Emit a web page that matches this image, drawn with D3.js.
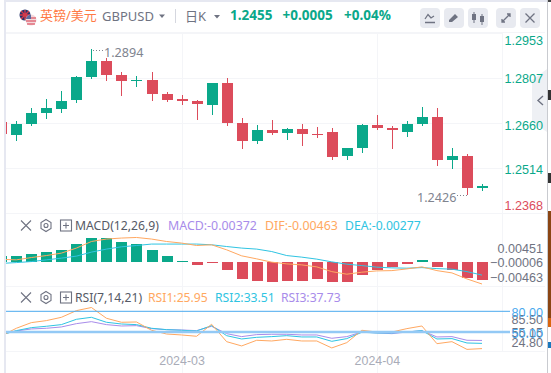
<!DOCTYPE html>
<html>
<head>
<meta charset="utf-8">
<style>
    body { margin: 0; background: #fff; overflow: hidden; }
    svg { display: block; font-family: "Noto Sans", "Noto Sans CJK SC", sans-serif; }
</style>
</head>
<body>
<svg id="container" width="551" height="373"></svg>

<script src="https://d3js.org/d3.v7.min.js"></script>
<script>

// candles, oldest first
let opens  = [1.2664,1.2622,1.2657,1.2693,1.2706,1.2735,1.2810,1.2862,1.2817,1.2798,1.2800,1.2755,1.2738,1.2732,1.2719,1.2791,1.2660,1.2602,1.2638,1.2628,1.2641,1.2625,1.2631,1.2553,1.2579,1.2654,1.2644,1.2631,1.2657,1.2680,1.2540,1.2553,1.2449]
let closes = [1.2625,1.2657,1.2693,1.2709,1.2732,1.2810,1.2862,1.2817,1.2797,1.2800,1.2755,1.2735,1.2732,1.2722,1.2791,1.2660,1.2602,1.2638,1.2628,1.2641,1.2625,1.2622,1.2550,1.2579,1.2654,1.2644,1.2638,1.2657,1.2680,1.2540,1.2553,1.2449,1.2455]
let highs  = [1.2664,1.2667,1.2709,1.2738,1.2764,1.2813,1.2900,1.2872,1.2826,1.2813,1.2826,1.2761,1.2751,1.2735,1.2791,1.2807,1.2677,1.2654,1.2670,1.2644,1.2657,1.2648,1.2644,1.2579,1.2657,1.2686,1.2651,1.2667,1.2712,1.2709,1.2579,1.2560,1.2462]
let lows   = [1.2625,1.2602,1.2652,1.2673,1.2693,1.2726,1.2803,1.2797,1.2748,1.2777,1.2732,1.2729,1.2719,1.2670,1.2686,1.2651,1.2576,1.2592,1.2622,1.2605,1.2586,1.2612,1.2540,1.2540,1.2563,1.2638,1.2576,1.2615,1.2651,1.2521,1.2511,1.2426,1.2440]

let macdBars = [0.00126,0.00126,0.00168,0.0021,0.00252,0.00378,0.00504,0.00504,0.0042,0.00378,0.00252,0.00126,0.00014,-0.00063,-0.00014,-0.00168,-0.00357,-0.00399,-0.0042,-0.00399,-0.00399,-0.00357,-0.0042,-0.0042,-0.00273,-0.00168,-0.00105,-0.00042,0.00042,-0.00105,-0.00168,-0.00336,-0.00372]
let difLine  = [0.00053,0.00042,0.0009,0.00132,0.00183,0.00288,0.00426,0.00477,0.00498,0.0051,0.00477,0.00426,0.00393,0.00342,0.00357,0.00252,0.00126,0.00063,-0.00006,-0.00042,-0.00063,-0.00105,-0.00204,-0.00258,-0.00216,-0.00189,-0.00183,-0.00147,-0.00105,-0.00183,-0.00231,-0.00357,-0.00463]
let deaLine  = [-0.00032,-0.00015,0.00006,0.00042,0.00078,0.0012,0.00204,0.00267,0.00315,0.00342,0.00372,0.00372,0.00372,0.00372,0.00357,0.00321,0.00288,0.00267,0.00216,0.00132,0.00099,0.00057,0,-0.00048,-0.00078,-0.00111,-0.00126,-0.00132,-0.0012,-0.00141,-0.00153,-0.00204,-0.00277]

let rsi1 = [44.3,55.4,63.6,66.5,71.3,81,85.5,69.9,64.1,64.5,52.5,47.1,45.7,43.8,61.2,36,29.8,38,37,39.4,37,37,26.9,34.6,52.5,50,50,54.9,58.7,33.1,36,24.8,25.95]
let rsi2 = [45.7,52,56.3,58.3,60.7,68.4,71.3,64.1,61.6,60.7,55.4,53.4,52.5,51.5,59.2,44.7,39.9,42.3,43.3,44.7,42.8,42.8,36.5,40.4,49.6,48.6,48.6,50,52,39.9,40.4,34.1,33.51]
let rsi3 = [46.7,51.5,54.4,55.4,57.3,62.1,65,60.7,58.7,59.2,54.9,53.4,52.9,52,58.3,47.6,43.3,46.2,46.7,46.7,45.7,45.7,40.9,43.3,50,48.6,47.6,50,52,42.8,43.3,38,37.73]

let priceTicks = [1.2953,1.2807,1.2660,1.2514,1.2368]
let macdTicks = [0.00451,-0.00006,-0.00463]
let rsiGreyTicks = [85.5,55.15,24.8]
let rsiBands = [80,50]
let monthIndex = [12,25]
let monthLabels = ["2024-03","2024-04"]

const GREEN = "#0aa88a", RED = "#dc4c5b", GRID = "#f4f5f8", GREY = "#6f7382"
const ORANGE = "#ffa861", CYAN = "#2fc4e2", PURPLE = "#a88cea", BLUE = "#4aa9ee"
const AXIS_FONT = "12.6px"

let svg = d3.select("#container")

let x = d3.scaleLinear().domain([0,32]).range([1.3,482])
let priceY = d3.scaleLinear().domain([1.2368,1.2953]).range([213,33])
let macdY = d3.scaleLinear().domain([-0.00463,0.00451]).range([284,240.3])
let rsiY = d3.scaleLinear().domain([50,80]).range([332,311.3])

svg.append("clipPath").attr("id","plot").append("rect")
    .attr("x",6).attr("y",30).attr("width",496).attr("height",325)

// grid
let grid = svg.append("g").attr("stroke",GRID).attr("shape-rendering","crispEdges")
priceTicks.forEach(t => {
    grid.append("line").attr("x1",6).attr("x2",502).attr("y1",Math.round(priceY(t))).attr("y2",Math.round(priceY(t)))
})
grid.append("line").attr("x1",6).attr("x2",545).attr("y1",213).attr("y2",213)
grid.append("line").attr("x1",6).attr("x2",545).attr("y1",286).attr("y2",286)
grid.append("line").attr("x1",6).attr("x2",545).attr("y1",351).attr("y2",351)
grid.append("line").attr("x1",6).attr("x2",545).attr("y1",32).attr("y2",32)
grid.append("line").attr("x1",502).attr("x2",502).attr("y1",32).attr("y2",351)
monthIndex.forEach(i => {
    grid.append("line").attr("x1",Math.round(x(i))).attr("x2",Math.round(x(i))).attr("y1",32).attr("y2",373)
})

// side tab sits under the axis labels
svg.append("path").attr("d","M547 69 L532 80 V122 L547 132 Z").attr("fill","#eef0f4")
svg.append("path").attr("d","M543 96 L538 100.5 L543 105").attr("fill","none").attr("stroke",GREY).attr("stroke-width",1.4)

let plot = svg.append("g").attr("clip-path","url(#plot)")

// candles
let candles = plot.selectAll(".candle").data(opens.map((o,i) => ({i, o, c:closes[i], h:highs[i], l:lows[i]})))
    .enter().append("g").attr("shape-rendering","crispEdges")
    .attr("fill",d => d.c >= d.o ? GREEN : RED)

candles.append("rect")
    .attr("x",d => Math.round(x(d.i)))
    .attr("width",1)
    .attr("y",d => priceY(d.h))
    .attr("height",d => priceY(d.l)-priceY(d.h))

candles.append("rect")
    .attr("x",d => Math.round(x(d.i))-5)
    .attr("width",11)
    .attr("y",d => priceY(Math.max(d.o,d.c)))
    .attr("height",d => Math.max(1,Math.abs(priceY(d.o)-priceY(d.c))))

// macd
plot.selectAll(".hist").data(macdBars).enter().append("rect")
    .attr("shape-rendering","crispEdges")
    .attr("x",(d,i) => Math.round(x(i))-5)
    .attr("width",11)
    .attr("y",d => d > 0 ? macdY(d) : macdY(0))
    .attr("height",d => Math.max(1,Math.abs(macdY(d)-macdY(0))))
    .attr("fill",d => d > 0 ? GREEN : RED)

function drawLine(values, yScale, color) {
    let line = d3.line().x((d,i) => x(i)).y(d => yScale(d))
    plot.append("path").attr("d",line(values)).attr("fill","none").attr("stroke",color).attr("stroke-width",1)
}
drawLine(deaLine,macdY,CYAN)
drawLine(difLine,macdY,ORANGE)

// rsi
let bands = svg.append("g")
bands.append("line").attr("x1",6).attr("x2",510).attr("y1",rsiY(80)).attr("y2",rsiY(80)).attr("stroke",BLUE).attr("stroke-width",1)
bands.append("line").attr("x1",6).attr("x2",510).attr("y1",rsiY(50)).attr("y2",rsiY(50)).attr("stroke","#93c9f5").attr("stroke-width",2.4)
drawLine(rsi3,rsiY,PURPLE)
drawLine(rsi2,rsiY,CYAN)
drawLine(rsi1,rsiY,ORANGE)

// price axis, the two outer labels are pushed inside the pane
let priceOffset = [7,0,1.5,1,-8]
let priceAxis = svg.append("g").attr("transform","translate(502,0)")
    .call(d3.axisRight(priceY).tickValues(priceTicks).tickFormat(d3.format(".4f")).tickSize(0))
priceAxis.select(".domain").remove()
priceAxis.selectAll("text")
    .attr("x",41).attr("text-anchor","end")
    .attr("dy",(d,i) => (priceOffset[i]+4.5)+"px")
    .attr("fill",(d,i) => i == 4 ? RED : GREEN)
    .style("font-size",AXIS_FONT).style("font-family","inherit")

let macdOffset = [7.7,0.3,-6.7]
let macdAxis = svg.append("g").attr("transform","translate(502,0)")
    .call(d3.axisRight(macdY).tickValues(macdTicks).tickFormat(d3.format(".5f")).tickSize(0))
macdAxis.select(".domain").remove()
macdAxis.selectAll("text")
    .attr("x",41).attr("text-anchor","end")
    .attr("dy",(d,i) => (macdOffset[i]+4.5)+"px")
    .attr("fill",GREY)
    .style("font-size",AXIS_FONT).style("font-family","inherit")

let rsiOffset = [11.5,3.6,-7]
let rsiAxis = svg.append("g").attr("transform","translate(502,0)")
    .call(d3.axisRight(rsiY).tickValues(rsiGreyTicks).tickFormat(d3.format(".2f")).tickSize(0))
rsiAxis.select(".domain").remove()
rsiAxis.selectAll("text")
    .attr("x",41).attr("text-anchor","end")
    .attr("dy",(d,i) => (rsiOffset[i]+4.5)+"px")
    .attr("fill",GREY)
    .style("font-size",AXIS_FONT).style("font-family","inherit")

let bandAxis = svg.append("g").attr("transform","translate(502,0)")
    .call(d3.axisRight(rsiY).tickValues(rsiBands).tickFormat(d3.format(".2f")).tickSize(0))
bandAxis.select(".domain").remove()
bandAxis.selectAll("text")
    .attr("x",41).attr("text-anchor","end")
    .attr("dy","5px")
    .attr("fill",BLUE)
    .style("font-size",AXIS_FONT).style("font-family","inherit")

// month axis
let monthAxis = svg.append("g").attr("transform","translate(0,351)")
    .call(d3.axisBottom(x).tickValues(monthIndex).tickFormat((d,i) => monthLabels[i]).tickSize(0).tickPadding(3))
monthAxis.select(".domain").remove()
monthAxis.selectAll("text").attr("fill","#a9acb8").attr("dy","0.85em")
    .style("font-size","12.4px").style("font-family","inherit")

function label(px, py, str, color, size, weight) {
    return svg.append("text").attr("x",px).attr("y",py).text(str)
        .attr("fill",color).style("font-size",size+"px").style("font-weight",weight || 400)
}

// high and low markers
let marks = svg.append("g").attr("stroke","#80848f").attr("shape-rendering","crispEdges")
marks.append("line").attr("x1",93).attr("x2",103).attr("y1",50).attr("y2",50).attr("stroke-dasharray","1 2")
marks.append("line").attr("x1",457).attr("x2",467).attr("y1",195).attr("y2",195).attr("stroke-dasharray","1 2")
label(104,57,"1.2894","#80848f",12.6)
label(417,202,"1.2426","#80848f",12.6)

// header
let flag = svg.append("g")
flag.append("circle").attr("cx",25).attr("cy",15).attr("r",5.5).attr("fill","#27336b")
flag.append("path").attr("d","M20 15 H30 M25 10 V20 M21 11 L29 19 M29 11 L21 19").attr("stroke","#d8394a").attr("stroke-width",1.3)
flag.append("circle").attr("cx",31).attr("cy",20).attr("r",5.5).attr("fill","#f3d9dc")
flag.append("path").attr("d","M26 18 H36 M26 21 H36 M27 24 H35").attr("stroke","#d8394a").attr("stroke-width",1.2)
flag.append("path").attr("d","M26 19 A5.5 5.5 0 0 1 31 14.5 V19 Z").attr("fill","#5c6a9e")

label(40,20,"英镑/美元","#ff7a45",13)
label(102,21,"GBPUSD",GREY,13)
svg.append("path").attr("d","M159 14.5 H165 L162 18 Z").attr("fill",GREY)
svg.append("rect").attr("x",175).attr("y",9).attr("width",1).attr("height",14).attr("fill","#d5d7df")
label(185,21,"日K",GREY,13)
svg.append("path").attr("d","M214 15 H220 L217 18.5 Z").attr("fill",GREY)
label(230,20,"1.2455",GREEN,13.5,700)
label(282.5,20,"+0.0005",GREEN,13.5,700)
label(344,20,"+0.04%",GREEN,13.5,700)

// toolbar buttons
let buttonX = [420,444,468,496,520]
svg.append("g").selectAll("rect").data(buttonX).enter().append("rect")
    .attr("x",d => d).attr("y",8).attr("width",20).attr("height",20).attr("rx",4).attr("fill","#e8eaf0")
let icons = svg.append("g").attr("fill","none").attr("stroke",GREY).attr("stroke-width",1.3)
icons.append("path").attr("d","M425 19 L428 14.5 L431 18 L434 16 M425 22.5 H435")
icons.append("path").attr("d","M449 20 L455 14 L458 17 L452 22 H449 Z M449 24 H459").attr("fill",GREY).attr("stroke","none")
icons.append("path").attr("d","M474 12 V23 M482 14 V25").attr("stroke-width",1)
icons.append("rect").attr("x",472).attr("y",14).attr("width",4).attr("height",6).attr("fill",GREY).attr("stroke","none")
icons.append("rect").attr("x",480).attr("y",16).attr("width",4).attr("height",6).attr("fill",GREY).attr("stroke","none")
icons.append("path").attr("d","M502 22 L510 14 M507 14 H510 V17 M502 19 V22 H505")
icons.append("path").attr("d","M525.5 13.5 L534.5 22.5 M534.5 13.5 L525.5 22.5")

// pane legends
function paneControls(cy) {
    let g = svg.append("g").attr("fill","none").attr("stroke",GREY).attr("stroke-width",1.1)
    g.append("path").attr("d",`M21 ${cy-5} L31 ${cy+5} M31 ${cy-5} L21 ${cy+5}`)
    g.append("path").attr("d",`M46 ${cy-6} L51 ${cy-3} V${cy+3} L46 ${cy+6} L41 ${cy+3} V${cy-3} Z`)
    g.append("circle").attr("cx",46).attr("cy",cy).attr("r",2)
    g.append("rect").attr("x",60.5).attr("y",cy-5.5).attr("width",11).attr("height",11)
    g.append("path").attr("d",`M63 ${cy} H69 M66 ${cy-3} V${cy+3}`)
}
paneControls(225.5)
paneControls(297.5)

label(75,230,"MACD(12,26,9)","#565a66",12.2)
label(168,230,"MACD:-0.00372",PURPLE,12.4)
label(265,230,"DIF:-0.00463",ORANGE,12.4)
label(345,230,"DEA:-0.00277",CYAN,12.2)

label(75,302,"RSI(7,14,21)","#565a66",12.2)
label(148,302,"RSI1:25.95",ORANGE,12.2)
label(215,302,"RSI2:33.51",CYAN,12.2)
label(281,302,"RSI3:37.73",PURPLE,12.2)

// page around the chart
svg.append("rect").attr("x",4).attr("y",0).attr("width",2).attr("height",373).attr("fill","#e6e8f1")
svg.append("rect").attr("x",4).attr("y",0).attr("width",543).attr("height",2).attr("fill","#e6e8f1")
svg.append("rect").attr("x",547).attr("y",0).attr("width",1).attr("height",373).attr("fill","#c9cbd0")
svg.append("rect").attr("x",548).attr("y",0).attr("width",3).attr("height",2).attr("fill","#444")
svg.append("rect").attr("x",548).attr("y",90).attr("width",3).attr("height",10).attr("fill","#333")
svg.append("rect").attr("x",548).attr("y",173).attr("width",3).attr("height",10).attr("fill","#333")
svg.append("rect").attr("x",548).attr("y",211).attr("width",3).attr("height",107).attr("fill","#8a4513")
svg.append("rect").attr("x",548).attr("y",318).attr("width",3).attr("height",9).attr("fill","#d9660f")
svg.append("rect").attr("x",548).attr("y",342).attr("width",3).attr("height",6).attr("fill","#1a78bd")

</script>
</body>
</html>
